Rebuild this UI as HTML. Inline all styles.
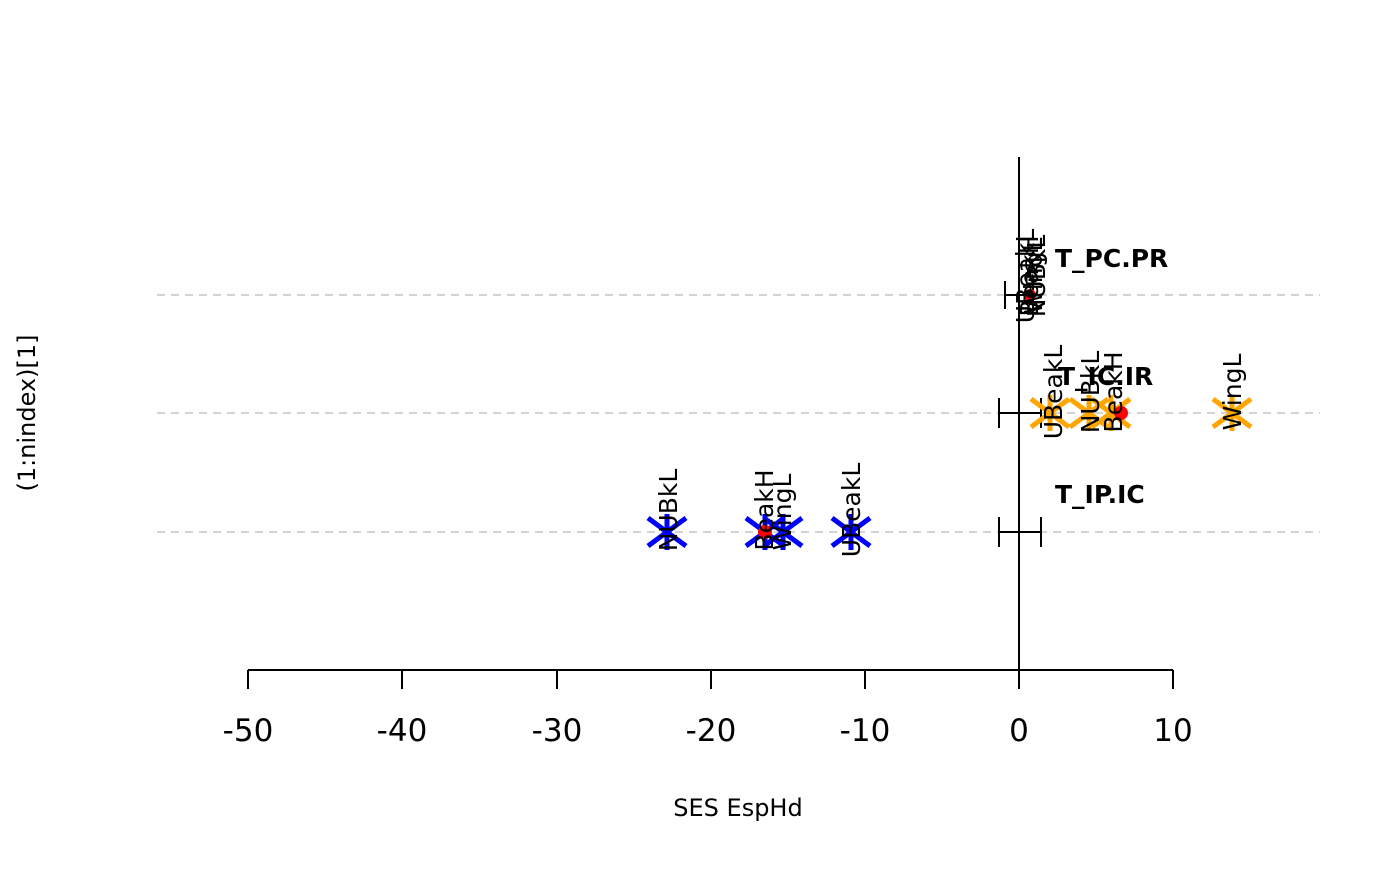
<!DOCTYPE html>
<html><head><style>body{margin:0;background:#fff}</style></head><body>
<svg width="1400" height="866" xmlns="http://www.w3.org/2000/svg" font-family="DejaVu Sans, Liberation Sans, sans-serif">
<g stroke="#d3d3d3" stroke-width="2" stroke-dasharray="8,6">
<line x1="157" y1="295" x2="1320" y2="295"/><line x1="157" y1="413" x2="1320" y2="413"/><line x1="157" y1="532" x2="1320" y2="532"/>
</g>
<line x1="1019" y1="157" x2="1019" y2="670" stroke="#000" stroke-width="2"/>
<g stroke="#000" stroke-width="2">
<line x1="248" y1="670" x2="1173" y2="670"/>
<line x1="248" y1="670" x2="248" y2="689"/><line x1="402" y1="670" x2="402" y2="689"/><line x1="557" y1="670" x2="557" y2="689"/><line x1="711" y1="670" x2="711" y2="689"/><line x1="865" y1="670" x2="865" y2="689"/><line x1="1019" y1="670" x2="1019" y2="689"/><line x1="1173" y1="670" x2="1173" y2="689"/>
<line x1="1005" y1="295" x2="1033" y2="295"/><line x1="1005" y1="281" x2="1005" y2="309"/><line x1="1033" y1="281" x2="1033" y2="309"/>
<line x1="999" y1="413" x2="1041" y2="413"/><line x1="999" y1="398" x2="999" y2="428"/><line x1="1041" y1="398" x2="1041" y2="428"/>
<line x1="999" y1="532" x2="1041" y2="532"/><line x1="999" y1="517" x2="999" y2="547"/><line x1="1041" y1="517" x2="1041" y2="547"/>
</g>
<g font-size="31" text-anchor="middle" fill="#000">
<text x="248" y="741">-50</text><text x="402" y="741">-40</text><text x="557" y="741">-30</text><text x="711" y="741">-20</text><text x="865" y="741">-10</text><text x="1019" y="741">0</text><text x="1173" y="741">10</text>
</g>
<text x="738" y="816" font-size="24" text-anchor="middle">SES EspHd</text>
<text transform="translate(35,413) rotate(-90)" font-size="24" text-anchor="middle">(1:nindex)[1]</text>
<defs>
<g id="ast"><line x1="-19" y1="-14" x2="19" y2="14"/><line x1="-19" y1="14" x2="19" y2="-14"/><line x1="0" y1="-18" x2="0" y2="18"/></g>
</defs>
<g stroke="#0000ff" stroke-width="5">
<use href="#ast" x="667" y="532"/><use href="#ast" x="765" y="532"/><use href="#ast" x="783" y="532"/><use href="#ast" x="851" y="532"/>
</g>
<g stroke="#ffa500" stroke-width="5">
<use href="#ast" x="1050" y="413"/><use href="#ast" x="1089" y="413"/><use href="#ast" x="1111" y="413"/><use href="#ast" x="1232" y="413"/>
</g>
<circle cx="765" cy="532" r="7" fill="#f00"/><circle cx="1121" cy="413" r="7" fill="#f00"/><circle cx="1030" cy="295" r="6" fill="#f00"/>
<g font-size="25" text-anchor="middle" fill="#000">
<text transform="translate(677,510) rotate(-90)">NUBkL</text>
<text transform="translate(773,510) rotate(-90)">BeakH</text>
<text transform="translate(791,512) rotate(-90)">WingL</text>
<text transform="translate(860,510) rotate(-90)">UBeakL</text>
<text transform="translate(1062,392) rotate(-90)">UBeakL</text>
<text transform="translate(1099,392) rotate(-90)">NUBkL</text>
<text transform="translate(1122,392) rotate(-90)">BeakH</text>
<text transform="translate(1241,392) rotate(-90)">WingL</text>
<text transform="translate(1034,276) rotate(-90)">UBeakL</text>
<text transform="translate(1038,276) rotate(-90)">BeakH</text>
<text transform="translate(1042,276) rotate(-90)">WingL</text>
<text transform="translate(1045,276) rotate(-90)">NUBkL</text>
</g>
<g font-size="25" font-weight="bold" fill="#000">
<text x="1055" y="267">T_PC.PR</text><text x="1058" y="385">T_IC.IR</text><text x="1055" y="503">T_IP.IC</text>
</g>
</svg>
</body></html>
